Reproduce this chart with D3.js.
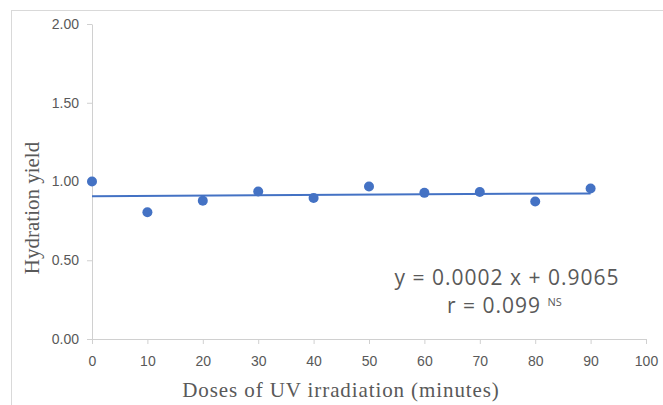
<!DOCTYPE html>
<html>

<head>
  <meta charset="UTF-8" />
  <title>Hydration yield vs UV dose</title>
  <style>
    body {
      margin: 0;
      background: white;
    }

    .tick text {
      font-family: "Liberation Sans", Arial, sans-serif;
      font-size: 14px;
      fill: #595959;
    }

    .axis-title {
      font-family: "Liberation Serif", "Times New Roman", serif;
      font-size: 21px;
      fill: #595959;
    }

    .equation {
      font-family: "Open Sans", sans-serif;
      font-size: 21px;
      letter-spacing: 1px;
      fill: #595959;
    }
  </style>
  <script src="https://d3js.org/d3.v7.min.js"></script>
</head>

<body>
  <script>
    /* Data */
    let doses = [0, 10, 20, 30, 40, 50, 60, 70, 80, 90];
    let yieldValues = [1.00, 0.805, 0.878, 0.937, 0.896, 0.968, 0.928, 0.933, 0.873, 0.955];
    let xTicks = [0, 10, 20, 30, 40, 50, 60, 70, 80, 90, 100];
    let yTicks = [0, 0.5, 1, 1.5, 2];
    let slope = 0.0002;
    let intercept = 0.9065;

    let width = 663;
    let height = 405;
    let margin = { top: 24, right: 17, bottom: 66, left: 92 };
    let blue = "#4472c4";
    let axisGray = "#d0d0d0";

    let svg = d3.select("body")
      .append("svg")
      .attr("width", width)
      .attr("height", height);

    /* outer chart border (runs off the right and bottom) */
    svg.append("rect")
      .attr("x", 11.5)
      .attr("y", 10.5)
      .attr("width", 800)
      .attr("height", 600)
      .attr("fill", "none")
      .attr("stroke", "#d9d9d9");

    let xScale = d3.scaleLinear()
      .domain([0, 100])
      .range([margin.left, width - margin.right]);

    let yScale = d3.scaleLinear()
      .domain([0, 2])
      .range([height - margin.bottom, margin.top]);

    /* x axis */
    let xAxis = svg.append("g")
      .attr("transform", `translate(0, ${yScale(0)})`)
      .call(d3.axisBottom(xScale)
        .tickValues(xTicks)
        .tickSize(5)
        .tickSizeOuter(0)
        .tickPadding(12)
        .tickFormat(d3.format("d")));

    /* y axis */
    let yAxis = svg.append("g")
      .attr("transform", `translate(${xScale(0)}, 0)`)
      .call(d3.axisLeft(yScale)
        .tickValues(yTicks)
        .tickSize(5)
        .tickSizeOuter(0)
        .tickPadding(8)
        .tickFormat(d3.format(".2f")));

    [xAxis, yAxis].forEach(ax => {
      ax.select(".domain").attr("stroke", axisGray);
      ax.selectAll(".tick line").attr("stroke", axisGray);
    });

    /* trend line */
    let trend = [doses[0], doses[doses.length - 1]].map(x => [x, intercept + slope * x]);
    svg.append("path")
      .datum(trend)
      .attr("fill", "none")
      .attr("stroke", blue)
      .attr("stroke-width", 2)
      .attr("d", d3.line()
        .x(d => xScale(d[0]))
        .y(d => yScale(d[1])));

    /* points */
    svg.append("g")
      .selectAll("circle")
      .data(doses.map((d, i) => ({ dose: d, value: yieldValues[i] })))
      .enter()
      .append("circle")
      .attr("cx", d => xScale(d.dose))
      .attr("cy", d => yScale(d.value))
      .attr("r", 5)
      .attr("fill", blue);

    /* axis titles */
    svg.append("text")
      .attr("class", "axis-title")
      .attr("x", 341)
      .attr("y", 397)
      .attr("text-anchor", "middle")
      .style("letter-spacing", "0.9px")
      .text("Doses of UV irradiation (minutes)");

    svg.append("text")
      .attr("class", "axis-title")
      .attr("transform", "translate(39, 208) rotate(-90)")
      .attr("text-anchor", "middle")
      .text("Hydration yield");

    /* regression annotation */
    svg.append("text")
      .attr("class", "equation")
      .attr("x", 507)
      .attr("y", 285)
      .attr("text-anchor", "middle")
      .text(`y = ${slope.toFixed(4)} x + ${intercept.toFixed(4)}`);

    let rText = svg.append("text")
      .attr("class", "equation")
      .attr("x", 447)
      .attr("y", 313);
    rText.append("tspan").text("r = 0.099 ");
    rText.append("tspan")
      .attr("dy", -7)
      .style("font-size", "11px")
      .style("letter-spacing", "0px")
      .text("NS");
  </script>
</body>

</html>
